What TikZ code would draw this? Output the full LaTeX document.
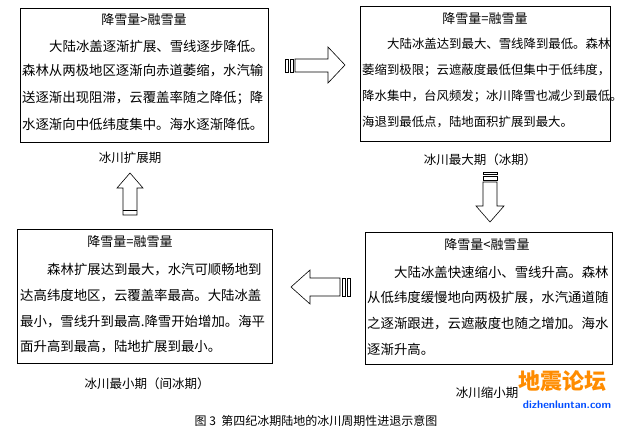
\documentclass[tikz,border=0pt]{standalone}
\usepackage{fontspec}
\setmainfont{Noto Sans CJK SC}
\begin{document}
\begin{tikzpicture}[x=1pt,y=-1pt,
  box/.style={draw,line width=0.8pt,anchor=north west,inner sep=0},
  ln/.style={anchor=west,inner sep=0,font=\fontsize{13.4}{16}\selectfont},
  lns/.style={anchor=west,inner sep=0,font=\fontsize{12.4}{16}\selectfont},
  ttl/.style={font=\fontsize{13}{14}\selectfont},
  lab/.style={font=\fontsize{12.5}{14}\selectfont},
  arr/.style={draw,line width=0.6pt,fill=white}]
\useasboundingbox (0,0) rectangle (629,437);
% boxes
\node[box,minimum width=248,minimum height=134] (b1) at (20,8) {};
\node[box,minimum width=250,minimum height=135] (b2) at (360,6) {};
\node[box,minimum width=255,minimum height=134] (b3) at (17,229) {};
\node[box,minimum width=247,minimum height=132] (b4) at (365,232) {};
% box1
\node[ttl] (t1) at (144,20) {降雪量>融雪量};
\node[ln] (a1) at (49,46) {大陆冰盖逐渐扩展、雪线逐步降低。};
\node[ln] (a2) at (22,71) {森林从两极地区逐渐向赤道萎缩，水汽输};
\node[ln] (a3) at (22,98) {送逐渐出现阻滞，云覆盖率随之降低；降};
\node[ln] (a4) at (22,124) {水逐渐向中低纬度集中。海水逐渐降低。};
% box2
\node[ttl] (t2) at (485,19) {降雪量=融雪量};
\node[lns] (c1) at (387,44) {大陆冰盖达到最大、雪线降到最低。森林};
\node[lns] (c2) at (362,70) {萎缩到极限；云遮蔽度最低但集中于低纬度，};
\node[lns] (c3) at (362,96) {降水集中，台风频发；冰川降雪也减少到最低。};
\node[lns] (c4) at (362,122) {海退到最低点，陆地面积扩展到最大。};
% box3
\node[ttl] (t3) at (130,242) {降雪量=融雪量};
\node[ln] (d1) at (47,270) {森林扩展达到最大，水汽可顺畅地到};
\node[ln] (d2) at (20,296) {达高纬度地区，云覆盖率最高。大陆冰盖};
\node[ln] (d3) at (20,322) {最小，雪线升到最高.降雪开始增加。海平};
\node[ln] (d4) at (20,347) {面升高到最高，陆地扩展到最小。};
% box4
\node[ttl] (t4) at (487,245) {降雪量<融雪量};
\node[ln] (e1) at (394,272) {大陆冰盖快速缩小、雪线升高。森林};
\node[ln] (e2) at (367,298) {从低纬度缓慢地向两极扩展，水汽通道随};
\node[ln] (e3) at (367,324) {之逐渐跟进，云遮蔽度也随之增加。海水};
\node[ln] (e4) at (367,349) {逐渐升高。};
% labels
\node[lab] (l1) at (130,158) {冰川扩展期};
\node[lab] (l2) at (480,160) {冰川最大期（冰期）};
\node[lab] (l3) at (147,384) {冰川最小期（间冰期）};
\node[lab] (l4) at (487,393) {冰川缩小期};
\node[font=\fontsize{12}{14}\selectfont] (cap) at (316,421) {图 3\ \ 第四纪冰期陆地的冰川周期性进退示意图};
% watermark
\node[text=orange!90!yellow,font=\fontsize{22}{24}\selectfont\bfseries] (wm1) at (562,381) {地震论坛};
\node[text=blue!70!cyan,font=\fontsize{11}{12}\sffamily\bfseries] (wm2) at (567,405) {dizhenluntan.com};
% right arrow (top)
\draw[arr] (285,59) rectangle (288,72);
\draw[arr] (290,59) rectangle (293,72);
\draw[arr] (295,59) -- (328,59) -- (328,47) -- (345,65) -- (328,83) -- (328,72) -- (295,72) -- cycle;
% up arrow
\draw[arr] (123,215) -- (123,188) -- (117,188) -- (130,173) -- (143,188) -- (137,188) -- (137,215) -- cycle;
\draw[arr] (123,210) -- (137,210);
% down arrow
\draw[arr] (483,172) rectangle (497,174);
\draw[arr] (483,176) rectangle (497,180);
\draw[arr] (483,182) -- (497,182) -- (497,206) -- (504,206) -- (490,222) -- (476,206) -- (483,206) -- cycle;
% left arrow (bottom)
\draw[arr] (347,278) rectangle (350,296);
\draw[arr] (342,278) rectangle (345,296);
\draw[arr] (340,278) -- (310,278) -- (310,270) -- (291,287) -- (310,304) -- (310,296) -- (340,296) -- cycle;
\end{tikzpicture}
\end{document}
